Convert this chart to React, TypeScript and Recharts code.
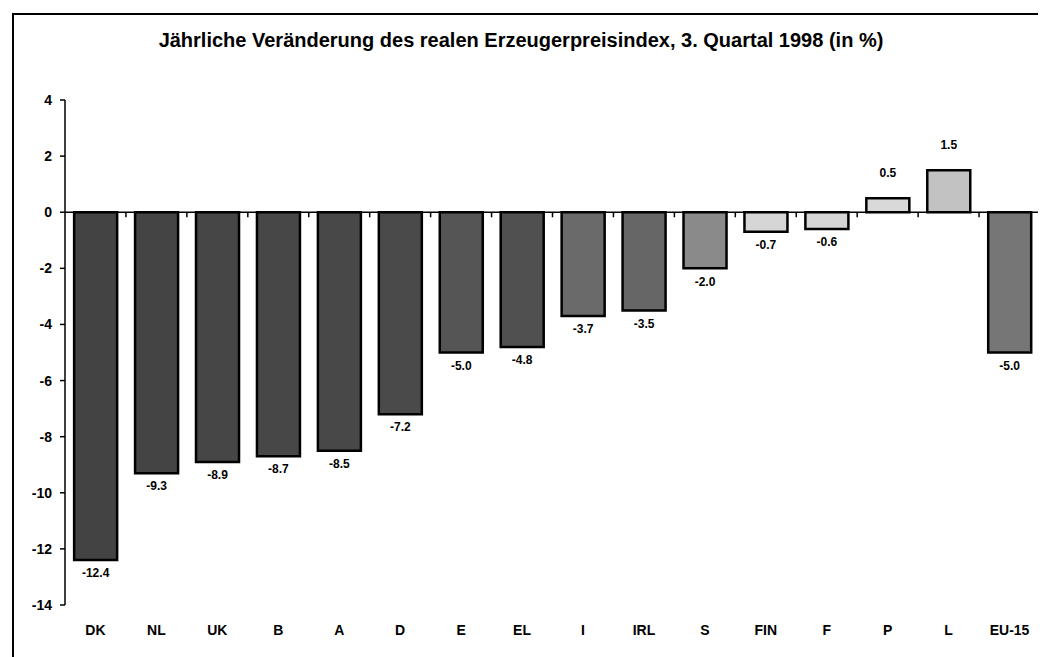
import { BarChart, Bar, XAxis, YAxis, ReferenceLine, Cell, LabelList } from 'recharts'

const countries = ['DK', 'NL', 'UK', 'B', 'A', 'D', 'E', 'EL', 'I', 'IRL', 'S', 'FIN', 'F', 'P', 'L', 'EU-15']
const changes = [-12.4, -9.3, -8.9, -8.7, -8.5, -7.2, -5.0, -4.8, -3.7, -3.5, -2.0, -0.7, -0.6, 0.5, 1.5, -5.0]
const yTicks = [4, 2, 0, -2, -4, -6, -8, -10, -12, -14]

// grey tone per bar, roughly the average of the scanned dot texture
const shades = [
  '#434343', '#444444', '#464646', '#474747', '#484848', '#4a4a4a', '#555555', '#505050',
  '#6a6a6a', '#666666', '#8a8a8a', '#d6d6d6', '#d6d6d6', '#d9d9d9', '#c2c2c2', '#767676',
]

const chartData = countries.map((c, i) => ({ country: c, value: changes[i] }))

const font = '"Liberation Sans", Arial, sans-serif'

function ValueLabel(props: any) {
  const { x, y, width, height, value } = props
  const top = Math.min(y, y + height)
  const bottom = Math.max(y, y + height)
  const cx = x + width / 2
  const ty = value >= 0 ? top - 24 : bottom + 14
  return (
    <text
      x={cx}
      y={ty}
      textAnchor="middle"
      dominantBaseline="middle"
      fontFamily={font}
      fontWeight="bold"
      fontSize={12}
      fill="#000"
    >
      {Number(value).toFixed(1)}
    </text>
  )
}

export default function App() {
  return (
    <div style={{ position: 'relative', width: 1030, height: 649, fontFamily: font }}>
      <div
        style={{
          position: 'absolute',
          left: 4,
          top: 5,
          width: 1040,
          height: 650,
          borderTop: '2px solid #000',
          borderLeft: '2px solid #000',
        }}
      />
      <div
        style={{
          position: 'absolute',
          left: 0,
          top: 21,
          width: 1026,
          textAlign: 'center',
          fontWeight: 'bold',
          fontSize: 20,
          color: '#000',
        }}
      >
        Jährliche Veränderung des realen Erzeugerpreisindex, 3. Quartal 1998 (in %)
      </div>
      <div style={{ position: 'absolute', left: 0, top: 0 }}>
        <BarChart
          width={1036}
          height={649}
          data={chartData}
          margin={{ top: 92, right: 4, left: 7, bottom: 12 }}
          barCategoryGap="15%"
        >
          <XAxis
            dataKey="country"
            axisLine={false}
            tickLine={false}
            tickSize={0}
            tickMargin={20}
            height={40}
            interval={0}
            tick={{ fill: '#000', fontSize: 14, fontWeight: 'bold', fontFamily: font }}
          />
          <YAxis
            domain={[-14, 4]}
            ticks={yTicks}
            interval={0}
            width={50}
            axisLine={{ stroke: '#000', strokeWidth: 1.5 }}
            tickLine={{ stroke: '#000', strokeWidth: 1.5 }}
            tickSize={5}
            tickMargin={8}
            tick={{ fill: '#000', fontSize: 14, fontWeight: 'bold', fontFamily: font }}
          />
          <ReferenceLine y={0} stroke="#000" strokeWidth={1.5} />
          {countries.map((c) => (
            <ReferenceLine
              key={'tick-' + c}
              segment={[{ x: c, y: 0 }, { x: c, y: -0.18 }]}
              position="end"
              stroke="#000"
              strokeWidth={1.5}
            />
          ))}
          <Bar dataKey="value" stroke="#000" strokeWidth={2.5} isAnimationActive={false}>
            {chartData.map((d, i) => (
              <Cell key={d.country} fill={shades[i]} />
            ))}
            <LabelList dataKey="value" content={<ValueLabel />} />
          </Bar>
        </BarChart>
      </div>
    </div>
  )
}
